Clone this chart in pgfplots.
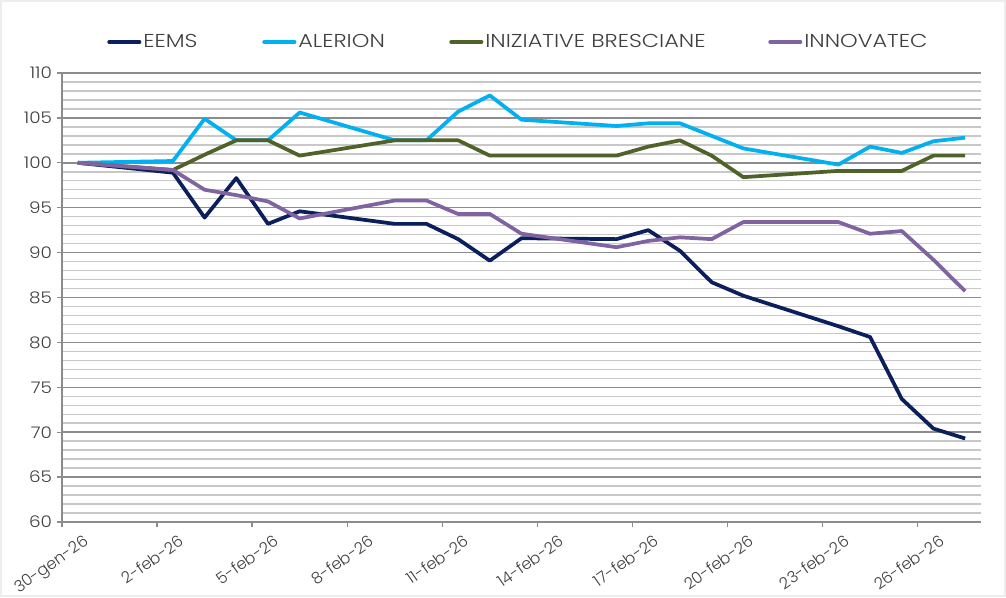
\documentclass[border=0pt]{standalone}
\usepackage{pgfplots}
\pgfplotsset{compat=1.18}
\usepackage{pgfplotstable}
\usepackage{fontspec}
\setmainfont{Poppins}[UprightFont={* Light}]
\newfontfamily\legfont{Poppins}[UprightFont={* Light}, FakeStretch=1.2]
\newfontfamily\tickfont{Poppins}[UprightFont={* Light}, FakeStretch=1.15]
\definecolor{eems}{HTML}{0B1F5C}
\definecolor{alerion}{HTML}{00B0F0}
\definecolor{iniz}{HTML}{4F6228}
\definecolor{innov}{HTML}{8064A2}
\definecolor{majg}{HTML}{8C8C8C}
\definecolor{ming}{HTML}{C8C8C8}
\definecolor{txt}{HTML}{404040}
\pgfplotstableread{
d eems alerion iniz innov
0.5 100 100 100 100
3.5 98.9 100.2 99.2 99.2
4.5 93.9 104.9 100.9 97.0
5.5 98.3 102.5 102.5 96.4
6.5 93.2 102.5 102.5 95.7
7.5 94.6 105.6 100.8 93.8
10.5 93.2 102.5 102.5 95.8
11.5 93.2 102.5 102.5 95.8
12.5 91.5 105.7 102.5 94.3
13.5 89.1 107.5 100.8 94.3
14.5 91.6 104.8 100.8 92.1
17.5 91.5 104.1 100.8 90.6
18.5 92.5 104.4 101.8 91.3
19.5 90.2 104.4 102.5 91.7
20.5 86.7 103.0 100.8 91.5
21.5 85.2 101.6 98.4 93.4
24.5 81.8 99.8 99.1 93.4
25.5 80.6 101.8 99.1 92.1
26.5 73.7 101.1 99.1 92.4
27.5 70.4 102.4 100.8 89.2
28.5 69.3 102.8 100.8 85.7
}\data
\begin{document}
\begin{tikzpicture}
\useasboundingbox (0,0) rectangle (754.5pt,447.75pt);
\draw[black!7, line width=1.5pt] (0.75pt,0.75pt) rectangle (753.75pt,447pt);
\begin{axis}[
  at={(46.5pt,56.25pt)}, anchor=south west,
  scale only axis, width=689.25pt, height=336.75pt,
  xmin=0, xmax=29, ymin=60, ymax=110,
  axis x line*=bottom, axis y line*=left,
  axis line style={majg, line width=1pt, -},
  xtick={0,3,...,27},
  xticklabels={30-gen-26,2-feb-26,5-feb-26,8-feb-26,11-feb-26,14-feb-26,17-feb-26,20-feb-26,23-feb-26,26-feb-26},
  xticklabel style={rotate=35, anchor=north east, xshift=10pt, yshift=-13pt,
    font=\fontsize{12}{13}\selectfont, text=txt, inner sep=0pt},
  ytick={60,65,...,110},
  minor y tick num=4,
  yticklabel style={font=\tickfont\fontsize{12}{13}\selectfont, text=txt},
  /pgf/number format/assume math mode=true,
  tick align=outside,
  major tick length=4pt, minor tick length=0pt,
  tick style={majg, line width=1pt},
  ymajorgrids, yminorgrids,
  major grid style={majg, line width=1.1pt},
  minor grid style={ming, line width=1.1pt},
  legend columns=4,
  legend style={at={(0.049,1.069)}, anchor=west, draw=none, fill=none,
    font=\legfont\fontsize{14}{15}\selectfont, text=txt, inner sep=0pt,
    /tikz/every odd column/.append style={column sep=1.5pt},
    /tikz/every even column/.append style={column sep=0pt},
    nodes={inner sep=0pt}},
  legend image code/.code={\draw[#1, line width=2.6pt, line cap=round] (1.3pt,0pt) -- (24.2pt,0pt);},
  every axis plot/.append style={line width=2.8pt, line join=round, no marks},
]
\addplot[eems] table[x=d, y=eems] {\data};
\addlegendentry{\makebox[89.25pt][l]{EEMS}}
\addplot[alerion] table[x=d, y=alerion] {\data};
\addlegendentry{\makebox[113.25pt][l]{ALERION}}
\addplot[iniz] table[x=d, y=iniz] {\data};
\addlegendentry{\makebox[212.25pt][l]{INIZIATIVE BRESCIANE}}
\addplot[innov] table[x=d, y=innov] {\data};
\addlegendentry{INNOVATEC}
\end{axis}
\end{tikzpicture}
\end{document}
